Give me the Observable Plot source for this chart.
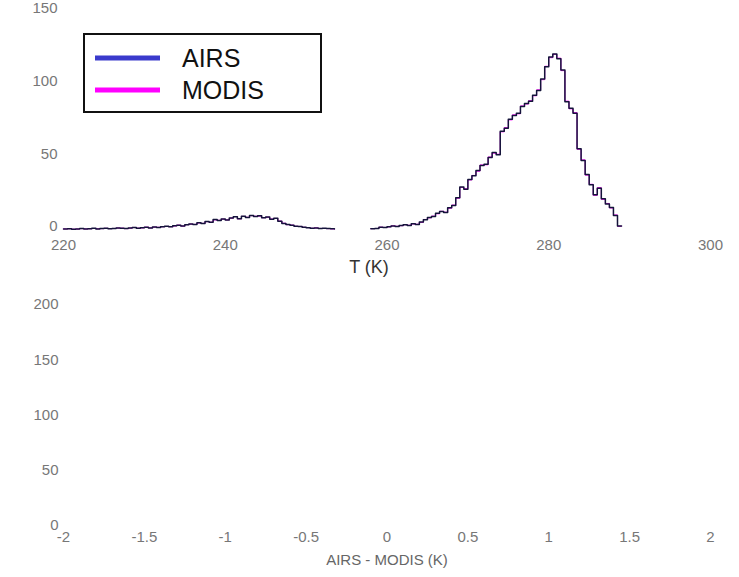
<!DOCTYPE html>
<html>
<head>
<meta charset="utf-8">
<script src="https://cdn.jsdelivr.net/npm/d3@7"></script>
<script src="https://cdn.jsdelivr.net/npm/@observablehq/plot@0.6"></script>
<style>
  body { margin: 0; background: #fff; }
  #fig { position: relative; width: 739px; height: 577px; background: #fff;
         font-family: "Liberation Sans", Arial, Helvetica, sans-serif; }
  #top, #bottom { position: absolute; left: 0; }
  #top { top: 0; }
  #bottom { top: 285px; }
  #legend { position: absolute; left: 83px; top: 33px; }
</style>
</head>
<body>
<div id="fig">
  <div id="top"></div>
  <div id="bottom"></div>
  <div id="legend"></div>
</div>
<script>
// Histogram bins: 0.5 K wide, starting at 220 K
const binStart = 220;
const binWidth = 0.5;

// Counts per bin (null = empty bin, no line drawn)
const airsCounts = [
  1.0, 1.2, 0.8, 1.1, 1.3, 1.0, 1.2, 1.5, 1.1, 1.3,
  1.6, 1.2, 1.4, 1.8, 1.5, 1.3, 1.7, 2.0, 1.6, 1.9,
  2.2, 1.8, 2.4, 2.1, 2.6, 2.9, 2.5, 3.2, 3.6, 3.1,
  3.9, 4.5, 4.1, 5.3, 4.8, 6.2, 5.6, 7.5, 6.8, 7.9,
  7.2, 8.6, 9.4, 8.1, 9.8, 8.9, 10.4, 9.6, 10.1, 8.7,
  9.3, 7.8, 8.5, 6.4, 4.9, 4.1, 3.6, 3.0, 2.7, 2.3,
  1.9, 1.6, 1.7, 1.4, 1.5, 1.3, 1.2, 1.0,
  null, null, null, null, null, null, null, null,
  1.2, 1.3, 2.2, 2.0, 2.6, 3.1, 2.8, 3.4,
  3.9, 3.5, 4.6, 4.2, 5.8, 7.4, 8.9, 9.6, 11.8, 13.0,
  12.4, 15.6, 17.2, 22.5, 30.0, 28.4, 35.1, 37.6, 41.2, 44.8,
  45.5, 50.2, 53.6, 52.1, 68.3, 70.4, 76.5, 79.2, 80.6, 85.3,
  87.4, 88.9, 93.1, 96.4, 104.2, 112.6, 119.3, 121.5, 118.2, 110.4,
  88.6, 84.1, 80.7, 56.3, 48.2, 38.5, 31.4, 24.6, 29.1, 21.8,
  18.2, 15.9, 10.3, 3.1
];
const modisCounts = [
  1.1, 1.2, 0.9, 1.0, 1.3, 1.1, 1.2, 1.4, 1.2, 1.3,
  1.5, 1.3, 1.4, 1.7, 1.6, 1.3, 1.6, 2.1, 1.6, 1.8,
  2.3, 1.8, 2.3, 2.2, 2.6, 2.8, 2.6, 3.1, 3.7, 3.0,
  4.0, 4.4, 4.2, 5.2, 4.9, 6.1, 5.7, 7.3, 7.0, 7.8,
  7.3, 8.5, 9.6, 8.0, 9.7, 9.1, 10.2, 9.8, 9.9, 8.8,
  9.1, 7.9, 8.3, 6.5, 5.0, 4.0, 3.7, 2.9, 2.8, 2.2,
  2.0, 1.5, 1.8, 1.4, 1.4, 1.3, 1.1, 1.0,
  null, null, null, null, null, null, null, null,
  1.3, 1.4, 2.3, 2.1, 2.5, 3.2, 2.9, 3.3,
  4.0, 3.6, 4.5, 4.3, 5.6, 7.6, 8.7, 9.9, 11.5, 13.2,
  12.6, 15.3, 17.5, 22.2, 29.6, 28.8, 34.8, 37.9, 40.8, 45.1,
  45.2, 50.6, 53.2, 52.5, 67.9, 70.8, 76.1, 79.6, 80.3, 85.7,
  87.0, 89.3, 92.7, 96.8, 103.8, 113.0, 118.9, 121.2, 118.6, 110.0,
  89.0, 83.7, 81.1, 55.9, 48.6, 38.1, 31.8, 24.2, 29.5, 21.4,
  18.6, 15.5, 10.7, 2.9
];

const tempTicks = [220, 240, 260, 280, 300];
const countTicks = [0, 50, 100, 150];
const diffTicks = [-2, -1.5, -1, -0.5, 0, 0.5, 1, 1.5, 2];
const diffCountTicks = [0, 50, 100, 150, 200];

const sensors = ["AIRS", "MODIS"];
const sensorColors = ["#3a3acc", "#ff00ff"];

// Stair rows: one point per left bin edge plus the closing right edge
function stairRows(counts) {
  const rows = counts.map((n, i) => ({ T: binStart + i * binWidth, n }));
  rows.push({ T: binStart + counts.length * binWidth, n: counts[counts.length - 1] });
  return rows;
}
const airsRows = stairRows(airsCounts);
const modisRows = stairRows(modisCounts);

const fontFamily = '"Liberation Sans", Arial, Helvetica, sans-serif';
const fmt = d => String(d);

const topChart = Plot.plot({
  width: 739,
  height: 285,
  marginLeft: 63,
  marginRight: 29,
  marginTop: 12,
  marginBottom: 55,
  style: { fontSize: "15px", fontFamily, color: "#777", background: "transparent", overflow: "visible" },
  x: { domain: [220, 300] },
  y: { domain: [0, 150] },
  marks: [
    Plot.axisX({ ticks: tempTicks, tickSize: 0, tickPadding: 9, label: null, tickFormat: fmt }),
    Plot.axisY({ ticks: countTicks, tickSize: 0, tickPadding: 6, dy: -4, label: null, tickFormat: fmt }),
    Plot.line(modisRows, { x: "T", y: "n", curve: "step-after", stroke: sensorColors[1], strokeWidth: 1 }),
    Plot.line(airsRows, { x: "T", y: "n", curve: "step-after", stroke: "#14143a", strokeWidth: 1.5 }),
    Plot.text(["T (K)"], { text: d => d, frameAnchor: "bottom", dx: -18, dy: 42, fontSize: 18, fill: "#333" })
  ]
});
document.getElementById("top").append(topChart);

const bottomChart = Plot.plot({
  width: 739,
  height: 292,
  marginLeft: 63,
  marginRight: 29,
  marginTop: 19,
  marginBottom: 52,
  style: { fontSize: "15px", fontFamily, color: "#777", background: "transparent", overflow: "visible" },
  x: { domain: [-2, 2] },
  y: { domain: [0, 200] },
  marks: [
    Plot.axisX({ ticks: diffTicks, tickSize: 0, tickPadding: 6, label: null, tickFormat: fmt }),
    Plot.axisY({ ticks: diffCountTicks, tickSize: 0, tickPadding: 5, label: null, tickFormat: fmt }),
    Plot.text(["AIRS - MODIS (K)"], { text: d => d, frameAnchor: "bottom", dy: 39, fontSize: 15, fill: "#666" })
  ]
});
document.getElementById("bottom").append(bottomChart);

// Legend box with line swatches
const legend = d3.select("#legend").append("svg")
  .attr("width", 240).attr("height", 82)
  .style("font-family", fontFamily);
legend.append("rect")
  .attr("x", 1).attr("y", 1).attr("width", 237).attr("height", 78)
  .attr("fill", "#fff").attr("stroke", "#111").attr("stroke-width", 2);
sensors.forEach((name, i) => {
  const y = 25 + i * 32;
  legend.append("line")
    .attr("x1", 12).attr("x2", 77).attr("y1", y).attr("y2", y)
    .attr("stroke", sensorColors[i]).attr("stroke-width", 5);
  legend.append("text")
    .attr("x", 99).attr("y", y + 9)
    .attr("font-size", 25).attr("fill", "#111")
    .text(name);
});
</script>
</body>
</html>
